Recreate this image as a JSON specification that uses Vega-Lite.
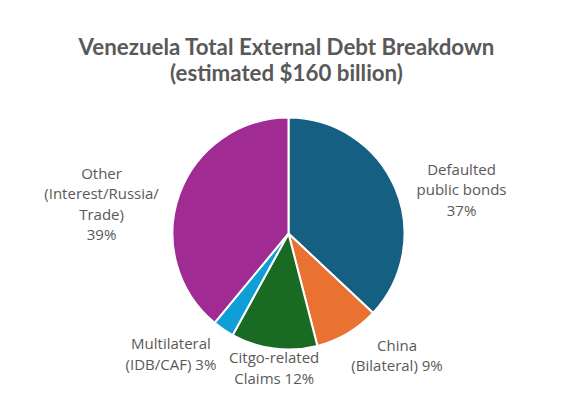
{
  "$schema": "https://vega.github.io/schema/vega-lite/v6.json",
  "autosize": {"type": "none"},
  "width": 577,
  "height": 321,
  "padding": {"top": 73, "left": 0, "right": 0, "bottom": 0},
  "background": "white",
  "config": {"view": {"stroke": null}, "font": "Open Sans"},
  "title": {
    "text": ["Venezuela Total External Debt Breakdown", "(estimated $160 billion)"],
    "fontSize": 22.3,
    "fontWeight": "bold",
    "font": "Lato",
    "color": "#595959",
    "lineHeight": 26,
    "anchor": "middle",
    "offset": -12,
    "dx": -2
  },
  "data": {
    "values": [
      {"k": "A", "name": "Defaulted public bonds", "pct": 37, "label": "Defaulted\npublic bonds\n37%"},
      {"k": "B", "name": "China (Bilateral)", "pct": 9, "label": "China\n(Bilateral) 9%"},
      {"k": "C", "name": "Citgo-related Claims", "pct": 12, "label": "Citgo-related\nClaims 12%"},
      {"k": "D", "name": "Multilateral (IDB/CAF)", "pct": 3, "label": "Multilateral\n(IDB/CAF) 3%"},
      {"k": "E", "name": "Other (Interest/Russia/Trade)", "pct": 39, "label": "Other\n(Interest/Russia/\nTrade)\n39%"}
    ]
  },
  "encoding": {
    "theta": {"field": "pct", "type": "quantitative", "stack": true},
    "order": {"field": "k", "type": "ordinal"}
  },
  "layer": [
    {
      "mark": {"type": "arc", "outerRadius": 116, "stroke": "white", "strokeWidth": 2},
      "encoding": {
        "color": {
          "field": "k", "type": "nominal", "legend": null,
          "scale": {"domain": ["A", "B", "C", "D", "E"], "range": ["#156082", "#E97132", "#196B24", "#0F9ED5", "#A02B93"]}
        }
      }
    },
    {
      "mark": {"type": "text", "radius": 170, "dx": 17, "dy": 4, "fontSize": 15, "lineHeight": 20.5, "lineBreak": "\n", "color": "#595959", "align": "center", "baseline": "middle"},
      "encoding": {"text": {"condition": {"test": "datum.k === 'A'", "field": "label"}, "value": ""}}
    },
    {
      "mark": {"type": "text", "radius": 170, "dx": 22, "dy": -34, "fontSize": 15, "lineHeight": 20.5, "lineBreak": "\n", "color": "#595959", "align": "center", "baseline": "middle"},
      "encoding": {"text": {"condition": {"test": "datum.k === 'B'", "field": "label"}, "value": ""}}
    },
    {
      "mark": {"type": "text", "radius": 170, "dx": 7, "dy": -44, "fontSize": 15, "lineHeight": 20.5, "lineBreak": "\n", "color": "#595959", "align": "center", "baseline": "middle"},
      "encoding": {"text": {"condition": {"test": "datum.k === 'C'", "field": "label"}, "value": ""}}
    },
    {
      "mark": {"type": "text", "radius": 170, "dx": -22, "dy": -30, "fontSize": 15, "lineHeight": 20.5, "lineBreak": "\n", "color": "#595959", "align": "center", "baseline": "middle"},
      "encoding": {"text": {"condition": {"test": "datum.k === 'D'", "field": "label"}, "value": ""}}
    },
    {
      "mark": {"type": "text", "radius": 170, "dx": -27, "dy": -2, "fontSize": 15, "lineHeight": 20.5, "lineBreak": "\n", "color": "#595959", "align": "center", "baseline": "middle"},
      "encoding": {"text": {"condition": {"test": "datum.k === 'E'", "field": "label"}, "value": ""}}
    }
  ]
}
